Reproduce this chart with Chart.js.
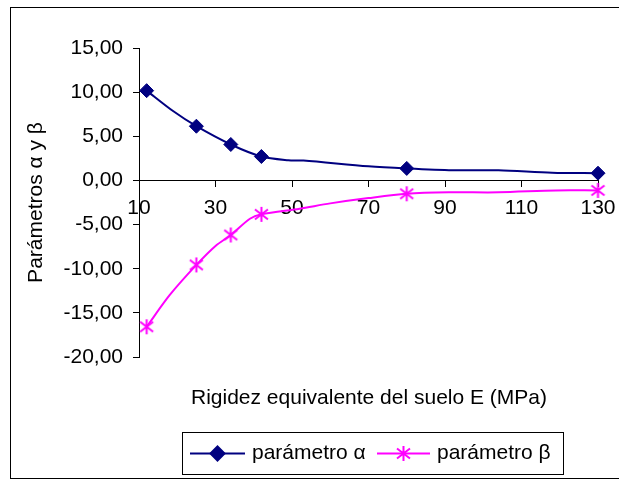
<!DOCTYPE html>
<html>
<head>
<meta charset="utf-8">
<script src="https://cdn.jsdelivr.net/npm/chart.js@4/dist/chart.umd.min.js"></script>
<style>
  html, body { margin: 0; padding: 0; background: #fff; }
  #wrap { width: 619px; height: 480px; }
</style>
</head>
<body>
<div id="wrap"><canvas id="c" width="619" height="480"></canvas></div>
<script>
// ---- data ----
const alphaLabel = 'parámetro α';
const betaLabel = 'parámetro β';
const alphaE = [12, 19, 25, 34, 42, 49, 53, 70, 80, 92, 104, 118, 130];
const alphaVals = [10.17, 7.83, 6.14, 4.07, 2.71, 2.29, 2.25, 1.6, 1.36, 1.16, 1.15, 0.87, 0.82];
const betaE = [12, 18, 25, 30, 34, 39, 42, 52, 60, 70, 80, 91, 104, 119, 130];
const betaVals = [-16.58, -13.0, -9.57, -7.42, -6.18, -4.34, -3.84, -3.2, -2.6, -2.0, -1.51, -1.35, -1.35, -1.13, -1.13];
const markerE = [12, 25, 34, 42, 80, 130];
const xTitle = 'Rigidez equivalente del suelo E (MPa)';
const yTitle = 'Parámetros α y β';
const xMin = 10, xMax = 130, xStep = 20;
const yMin = -20, yMax = 15, yStep = 5;

const FONT = '"Liberation Sans", Arial, sans-serif';
const NAVY = '#000080';
const MAGENTA = '#FF00FF';

// Excel-style asterisk marker
function makeStar(color) {
  const c = document.createElement('canvas');
  c.width = 17; c.height = 17;
  const g = c.getContext('2d');
  g.strokeStyle = color; g.lineWidth = 2;
  g.beginPath();
  g.moveTo(8.5, 1); g.lineTo(8.5, 16);
  g.moveTo(2, 3.5); g.lineTo(15, 13.5);
  g.moveTo(15, 3.5); g.lineTo(2, 13.5);
  g.stroke();
  return c;
}
const starImg = makeStar(MAGENTA);

const toPts = (xs, ys) => xs.map((x, i) => ({x: x, y: ys[i]}));
const markerRadius = r => ctx => (ctx.raw && markerE.includes(ctx.raw.x)) ? r : 0;

const frameAndLegend = {
  id: 'frameAndLegend',
  beforeDraw(chart) {
    const ctx = chart.ctx;
    ctx.save();
    ctx.fillStyle = '#fff';
    ctx.fillRect(0, 0, chart.width, chart.height);
    ctx.strokeStyle = '#000';
    ctx.lineWidth = 1;
    ctx.strokeRect(10.5, 7.5, 620, 471);
    ctx.restore();
  },
  afterDraw(chart) {
    const ctx = chart.ctx;
    ctx.save();
    // x-axis title
    ctx.fillStyle = '#000';
    ctx.font = '21px ' + FONT;
    ctx.textAlign = 'center';
    ctx.textBaseline = 'alphabetic';
    ctx.fillText(xTitle, 369, 404);
    // legend box
    ctx.strokeStyle = '#000';
    ctx.lineWidth = 1;
    ctx.strokeRect(182.5, 432.5, 381, 42);
    const items = [
      {ds: chart.data.datasets[0], x0: 190, x1: 245, tx: 252, r: 7},
      {ds: chart.data.datasets[1], x0: 377, x1: 430, tx: 437, r: 8}
    ];
    const ly = 453.5;
    items.forEach(it => {
      ctx.strokeStyle = it.ds.borderColor;
      ctx.lineWidth = 2;
      ctx.beginPath();
      ctx.moveTo(it.x0, ly); ctx.lineTo(it.x1, ly);
      ctx.stroke();
      ctx.fillStyle = it.ds.pointBackgroundColor;
      ctx.strokeStyle = it.ds.pointBorderColor;
      Chart.helpers.drawPoint(ctx, {pointStyle: it.ds.pointStyle, rotation: 0, radius: it.r, borderWidth: 1}, (it.x0 + it.x1) / 2, ly);
      ctx.fillStyle = '#000';
      ctx.font = '21px ' + FONT;
      ctx.textAlign = 'left';
      ctx.textBaseline = 'middle';
      ctx.fillText(it.ds.label, it.tx, ly);
    });
    ctx.restore();
  }
};

new Chart(document.getElementById('c'), {
  type: 'scatter',
  data: {
    datasets: [
      {
        label: alphaLabel,
        data: toPts(alphaE, alphaVals),
        showLine: true,
        borderColor: NAVY,
        borderWidth: 2,
        pointStyle: 'rectRot',
        pointBackgroundColor: NAVY,
        pointBorderColor: NAVY,
        pointBorderWidth: 1,
        pointRadius: markerRadius(7),
        pointHoverRadius: markerRadius(7),
        tension: 0.3,
        clip: false
      },
      {
        label: betaLabel,
        data: toPts(betaE, betaVals),
        showLine: true,
        borderColor: MAGENTA,
        borderWidth: 2,
        pointStyle: starImg,
        pointBackgroundColor: MAGENTA,
        pointBorderColor: MAGENTA,
        pointRadius: markerRadius(8),
        pointHoverRadius: markerRadius(8),
        tension: 0.3,
        clip: false
      }
    ]
  },
  options: {
    responsive: false,
    animation: false,
    devicePixelRatio: 1,
    layout: { autoPadding: false, padding: { left: 0, right: 21, top: 48, bottom: 123 } },
    plugins: {
      legend: { display: false },
      tooltip: { enabled: false }
    },
    scales: {
      x: {
        type: 'linear',
        position: { y: 0 },
        min: xMin, max: xMax,
        afterFit: s => { s.paddingRight = 0; s.paddingLeft = 0; },
        border: { display: true, color: '#000', width: 1 },
        grid: { drawOnChartArea: false, drawTicks: true, tickLength: 6, color: '#000' },
        ticks: {
          stepSize: xStep,
          color: '#000',
          font: { family: FONT, size: 21 },
          padding: 9,
          maxRotation: 0,
          autoSkip: false
        }
      },
      y: {
        type: 'linear',
        min: yMin, max: yMax,
        afterFit: s => { s.width = 139; },
        border: { display: true, color: '#000', width: 1 },
        grid: { drawOnChartArea: false, drawTicks: true, tickLength: 6, color: '#000' },
        ticks: {
          stepSize: yStep,
          color: '#000',
          font: { family: FONT, size: 21 },
          padding: 10,
          callback: v => v.toFixed(2).replace('.', ',')
        },
        title: {
          display: true,
          text: yTitle,
          color: '#000',
          font: { family: FONT, size: 21, weight: 'normal' },
          padding: { top: 24, bottom: 0 }
        }
      }
    }
  },
  plugins: [frameAndLegend]
});
</script>
</body>
</html>
